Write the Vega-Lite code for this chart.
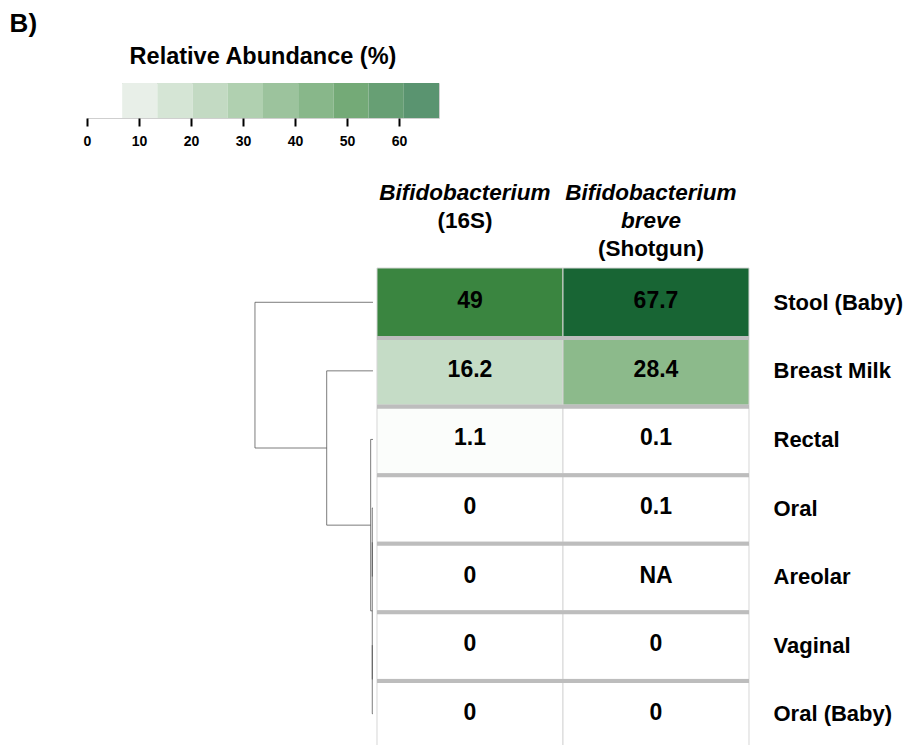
{
  "$schema": "https://vega.github.io/schema/vega-lite/v6.json",
  "padding": {"left": 9, "top": 10, "right": 0, "bottom": 0},
  "background": "white",
  "title": {"text": "B)", "anchor": "start", "fontSize": 26, "fontWeight": "bold", "font": "Liberation Sans", "color": "#000000", "dx": -73, "offset": 8},
  "config": {"view": {"stroke": null}, "font": "Liberation Sans", "axis": {"grid": false}},
  "datasets": {
    "cells": [
      {"sample": "Stool (Baby)", "row": 1, "col": 1, "target": "Bifidobacterium (16S)", "value": 49, "label": "49"},
      {"sample": "Stool (Baby)", "row": 1, "col": 2, "target": "Bifidobacterium breve (Shotgun)", "value": 67.7, "label": "67.7"},
      {"sample": "Breast Milk", "row": 2, "col": 1, "target": "Bifidobacterium (16S)", "value": 16.2, "label": "16.2"},
      {"sample": "Breast Milk", "row": 2, "col": 2, "target": "Bifidobacterium breve (Shotgun)", "value": 28.4, "label": "28.4"},
      {"sample": "Rectal", "row": 3, "col": 1, "target": "Bifidobacterium (16S)", "value": 1.1, "label": "1.1"},
      {"sample": "Rectal", "row": 3, "col": 2, "target": "Bifidobacterium breve (Shotgun)", "value": 0.1, "label": "0.1"},
      {"sample": "Oral", "row": 4, "col": 1, "target": "Bifidobacterium (16S)", "value": 0, "label": "0"},
      {"sample": "Oral", "row": 4, "col": 2, "target": "Bifidobacterium breve (Shotgun)", "value": 0.1, "label": "0.1"},
      {"sample": "Areolar", "row": 5, "col": 1, "target": "Bifidobacterium (16S)", "value": 0, "label": "0"},
      {"sample": "Areolar", "row": 5, "col": 2, "target": "Bifidobacterium breve (Shotgun)", "value": null, "label": "NA"},
      {"sample": "Vaginal", "row": 6, "col": 1, "target": "Bifidobacterium (16S)", "value": 0, "label": "0"},
      {"sample": "Vaginal", "row": 6, "col": 2, "target": "Bifidobacterium breve (Shotgun)", "value": 0, "label": "0"},
      {"sample": "Oral (Baby)", "row": 7, "col": 1, "target": "Bifidobacterium (16S)", "value": 0, "label": "0"},
      {"sample": "Oral (Baby)", "row": 7, "col": 2, "target": "Bifidobacterium breve (Shotgun)", "value": 0, "label": "0"}
    ],
    "legendbins": [
      {"from": 0, "to": 6.77},
      {"from": 6.77, "to": 13.54},
      {"from": 13.54, "to": 20.31},
      {"from": 20.31, "to": 27.08},
      {"from": 27.08, "to": 33.85},
      {"from": 33.85, "to": 40.62},
      {"from": 40.62, "to": 47.39},
      {"from": 47.39, "to": 54.16},
      {"from": 54.16, "to": 60.93},
      {"from": 60.93, "to": 67.7}
    ],
    "header": [
      {"col": 1, "line": 1, "text": "Bifidobacterium", "italic": true},
      {"col": 1, "line": 2, "text": "(16S)", "italic": false},
      {"col": 2, "line": 1, "text": "Bifidobacterium", "italic": true},
      {"col": 2, "line": 2, "text": "breve", "italic": true},
      {"col": 2, "line": 3, "text": "(Shotgun)", "italic": false}
    ],
    "dendro": [
      {"x1": -0.156, "x2": -0.156, "y1": 1, "y2": 3.125},
      {"x1": -0.156, "x2": 0.4785, "y1": 1, "y2": 1},
      {"x1": -0.156, "x2": 0.2296, "y1": 3.125, "y2": 3.125},
      {"x1": 0.2296, "x2": 0.2296, "y1": 2, "y2": 4.25},
      {"x1": 0.2296, "x2": 0.4785, "y1": 2, "y2": 2},
      {"x1": 0.2296, "x2": 0.466, "y1": 4.25, "y2": 4.25},
      {"x1": 0.466, "x2": 0.466, "y1": 3, "y2": 5.5},
      {"x1": 0.466, "x2": 0.4785, "y1": 3, "y2": 3},
      {"x1": 0.466, "x2": 0.4747, "y1": 5.5, "y2": 5.5},
      {"x1": 0.4747, "x2": 0.4747, "y1": 4, "y2": 7},
      {"x1": 0.4747, "x2": 0.4785, "y1": 4, "y2": 4},
      {"x1": 0.4747, "x2": 0.4785, "y1": 7, "y2": 7},
      {"x1": 0.4747, "x2": 0.4747, "y1": 4.5, "y2": 5},
      {"x1": 0.4747, "x2": 0.4747, "y1": 6, "y2": 6.5}
    ]
  },
  "spacing": 6,
  "resolve": {"scale": {"x": "independent", "y": "independent", "color": "independent"}},
  "vconcat": [
    {
      "width": 352,
      "height": 35,
      "view": {"stroke": "#cfcfcf"},
      "title": {"text": "Relative Abundance (%)", "fontSize": 23.5, "fontWeight": "bold", "anchor": "middle", "offset": 14.5, "color": "#000000"},
      "data": {"name": "legendbins"},
      "mark": {"type": "rect"},
      "encoding": {
        "x": {"field": "from", "type": "quantitative", "scale": {"domain": [0, 67.7], "nice": false, "zero": false},
          "axis": {"orient": "bottom", "values": [0, 10, 20, 30, 40, 50, 60], "domain": false, "ticks": true, "tickColor": "#000000", "tickWidth": 2, "tickSize": 8, "labelFontSize": 14, "labelFontWeight": "bold", "labelColor": "#000000", "labelPadding": 8, "labelFlush": false, "title": null}},
        "x2": {"field": "to"},
        "color": {"field": "from", "type": "quantitative", "legend": null,
          "scale": {"type": "linear", "domain": [0, 6.77, 27.08, 47.39, 60.93], "range": ["#ffffff", "#e8efe8", "#b0d0b0", "#74aa77", "#5a9470"], "interpolate": "rgb"}}
      }
    },
    {
      "width": 662,
      "height": 106,
      "data": {"name": "header"},
      "encoding": {
        "x": {"field": "col", "type": "quantitative", "scale": {"domain": [-1.059, 2.5], "nice": false, "zero": false}, "axis": null},
        "y": {"field": "line", "type": "quantitative", "scale": {"domain": [-0.357, 3.429], "nice": false, "zero": false, "reverse": true}, "axis": null},
        "text": {"field": "text"}
      },
      "layer": [
        {"transform": [{"filter": "datum.italic"}], "mark": {"type": "text", "fontSize": 22.5, "fontWeight": "bold", "fontStyle": "italic", "align": "center", "baseline": "middle", "color": "#000000", "dx": -5}},
        {"transform": [{"filter": "!datum.italic"}], "mark": {"type": "text", "fontSize": 22.5, "fontWeight": "bold", "align": "center", "baseline": "middle", "color": "#000000", "dx": -5}}
      ]
    },
    {
      "width": 662,
      "height": 480,
      "layer": [
        {
          "data": {"name": "cells"},
          "mark": {"type": "rect", "width": 186, "height": 68.57, "stroke": "#d6d6d6", "strokeWidth": 1, "invalid": "show"},
          "encoding": {
            "x": {"field": "col", "type": "quantitative", "scale": {"domain": [-1.059, 2.5], "nice": false, "zero": false}, "axis": null},
            "y": {"field": "row", "type": "quantitative", "scale": {"domain": [0.5, 7.5], "nice": false, "zero": false, "reverse": true},
              "axis": {"orient": "right", "values": [1, 2, 3, 4, 5, 6, 7], "labelExpr": "datum.value == 1 ? 'Stool (Baby)' : datum.value == 2 ? 'Breast Milk' : datum.value == 3 ? 'Rectal' : datum.value == 4 ? 'Oral' : datum.value == 5 ? 'Areolar' : datum.value == 6 ? 'Vaginal' : 'Oral (Baby)'", "domain": false, "ticks": false, "tickSize": 0, "labelPadding": 24, "labelFontSize": 22, "labelFontWeight": "bold", "labelColor": "#000000", "labelAlign": "left", "labelBaseline": "middle", "labelOverlap": false, "labelBound": false, "title": null}},
            "color": {"condition": {"test": "datum.value === null", "value": "#ffffff"}, "field": "value", "type": "quantitative", "legend": null,
              "scale": {"type": "linear", "domain": [0, 16.2, 28.4, 49, 67.7], "range": ["#ffffff", "#c5dcc6", "#8cba8b", "#3a8540", "#186534"], "interpolate": "rgb"}}
          }
        },
        {
          "data": {"name": "dendro"},
          "mark": {"type": "rule", "color": "#444444", "strokeWidth": 1, "opacity": 0.7},
          "encoding": {
            "x": {"field": "x1", "type": "quantitative", "scale": {"domain": [-1.059, 2.5], "nice": false, "zero": false}, "axis": null},
            "x2": {"field": "x2"},
            "y": {"field": "y1", "type": "quantitative", "title": null, "scale": {"domain": [0.5, 7.5], "nice": false, "zero": false, "reverse": true}},
            "y2": {"field": "y2"}
          }
        },
        {
          "data": {"name": "cells"},
          "transform": [{"filter": "datum.col === 1 && datum.row < 7"}],
          "mark": {"type": "rule", "color": "#bdbdbd", "strokeWidth": 4, "yOffset": 35.8},
          "encoding": {
            "x": {"datum": 0.5, "type": "quantitative", "scale": {"domain": [-1.059, 2.5], "nice": false, "zero": false}, "axis": null},
            "x2": {"datum": 2.5},
            "y": {"field": "row", "type": "quantitative", "title": null, "scale": {"domain": [0.5, 7.5], "nice": false, "zero": false, "reverse": true}}
          }
        },
        {
          "data": {"name": "cells"},
          "mark": {"type": "text", "fontSize": 23, "fontWeight": "bold", "color": "#000000", "align": "center", "baseline": "middle", "dy": -1},
          "encoding": {
            "x": {"field": "col", "type": "quantitative", "scale": {"domain": [-1.059, 2.5], "nice": false, "zero": false}, "axis": null},
            "y": {"field": "row", "type": "quantitative", "title": null, "scale": {"domain": [0.5, 7.5], "nice": false, "zero": false, "reverse": true}},
            "text": {"field": "label"}
          }
        }
      ]
    }
  ]
}
